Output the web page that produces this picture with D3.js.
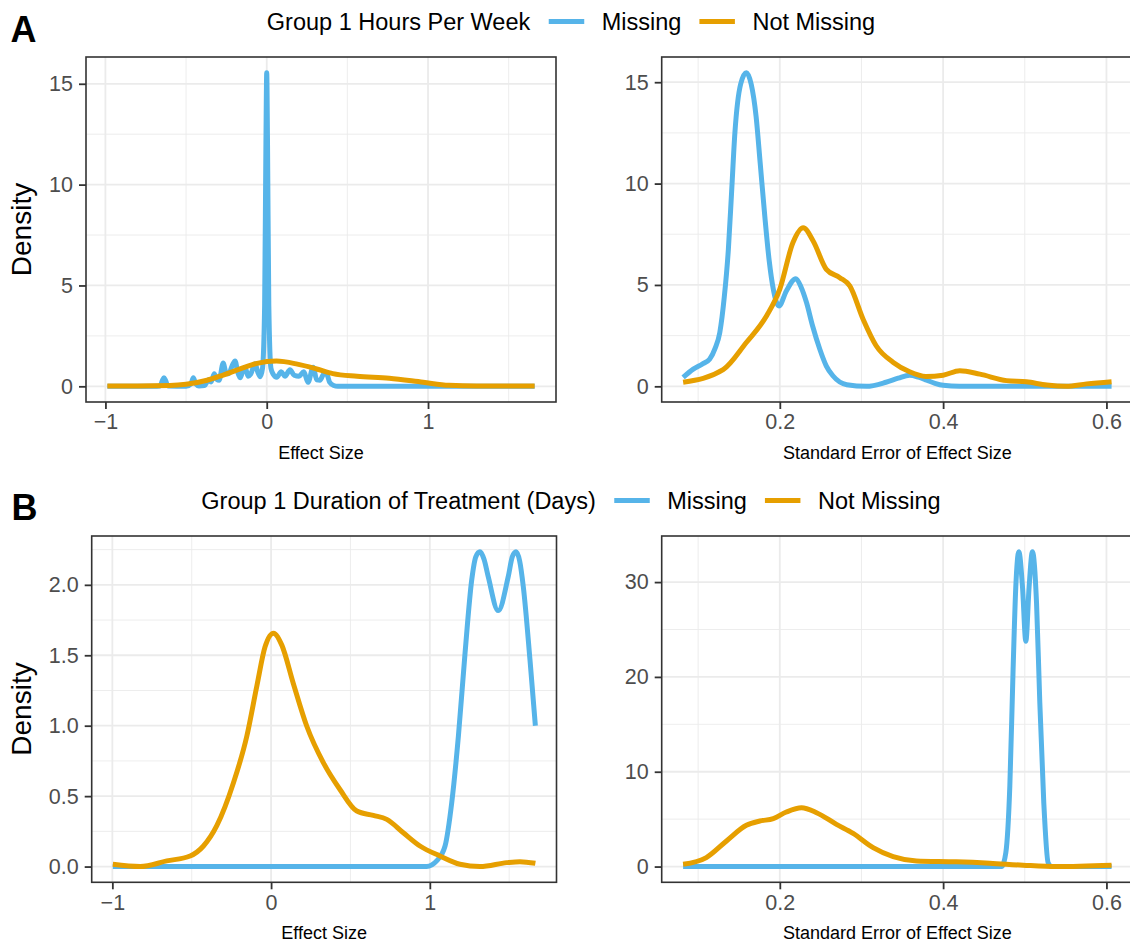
<!DOCTYPE html>
<html><head><meta charset="utf-8">
<script src="https://cdn.jsdelivr.net/npm/d3@7"></script>
<style>
body{margin:0;background:#fff}
svg{display:block}
text{font-family:"Liberation Sans",Arial,Helvetica,sans-serif}
</style>
</head><body>
<svg id="chart" width="1130" height="946"></svg>
<script>
// ---------------- DATA ----------------
const rowLabels = ["A", "B"];
const legendTitles = ["Group 1 Hours Per Week", "Group 1 Duration of Treatment (Days)"];
const seriesNames = ["Missing", "Not Missing"];
const xTitles = ["Effect Size", "Standard Error of Effect Size"];
const yTitle = "Density";

const effectTicks = [-1, 0, 1];
const seTicks = [0.2, 0.4, 0.6];
const yTicksHoursES = [0, 5, 10, 15];
const yTicksHoursSE = [0, 5, 10, 15];
const yTicksDaysES = [0, 0.5, 1.0, 1.5, 2.0];
const yTicksDaysSE = [0, 10, 20, 30];

// Hours per week — effect size densities
const hoursESMissing = [[-0.988,0],[-0.70,0],[-0.662,0.02],[-0.646,0.3],[-0.637,0.42],[-0.628,0.3],[-0.612,0.02],[-0.5,0],[-0.47,0.12],[-0.455,0.42],[-0.44,0.12],[-0.42,0.02],[-0.385,0.04],[-0.36,0.32],[-0.345,0.22],[-0.325,0.62],[-0.31,0.35],[-0.295,0.3],[-0.27,1.15],[-0.25,0.62],[-0.236,0.62],[-0.213,1.05],[-0.196,1.26],[-0.18,0.7],[-0.165,0.42],[-0.145,0.82],[-0.132,0.88],[-0.115,0.5],[-0.1,0.6],[-0.072,1.12],[-0.055,0.7],[-0.04,0.48],[-0.026,0.9],[-0.013,4],[-0.005,12],[0,15.55],[0.005,12],[0.013,4],[0.026,0.9],[0.04,0.6],[0.062,0.45],[0.09,0.72],[0.113,0.5],[0.144,0.82],[0.17,0.55],[0.2,0.5],[0.23,0.72],[0.256,0.2],[0.288,0.95],[0.31,0.32],[0.33,0.3],[0.355,0.62],[0.372,0.6],[0.39,0.2],[0.415,0.04],[0.44,0],[1.661,0]];
const hoursESNotMissing = [[-0.988,0.02],[-0.8,0.02],[-0.6,0.04],[-0.5,0.1],[-0.37,0.3],[-0.27,0.56],[-0.165,0.86],[-0.06,1.14],[0.06,1.25],[0.19,1.1],[0.31,0.86],[0.41,0.63],[0.56,0.5],[0.76,0.4],[0.97,0.2],[1.13,0.05],[1.3,0.02],[1.661,0.02]];

// Hours per week — standard error densities
const hoursSEMissing = [[0.0816,0.44],[0.094,0.85],[0.105,1.1],[0.114,1.34],[0.121,1.9],[0.1265,2.65],[0.132,4.4],[0.137,6.75],[0.141,9.6],[0.145,12.5],[0.152,14.9],[0.159,15.47],[0.165,14.9],[0.171,13.3],[0.176,11.0],[0.1816,8.4],[0.187,6.2],[0.192,4.8],[0.199,3.96],[0.208,4.7],[0.2196,5.31],[0.226,4.9],[0.2327,4.13],[0.24,3.0],[0.249,1.83],[0.257,1.0],[0.265,0.52],[0.282,0.08],[0.306,0.0],[0.33,0.2],[0.345,0.4],[0.359,0.55],[0.37,0.45],[0.38,0.3],[0.39,0.15],[0.4,0.05],[0.42,0],[0.6063,0]];
const hoursSENotMissing = [[0.0816,0.2],[0.1306,0.82],[0.159,2.16],[0.1837,3.47],[0.2,4.79],[0.216,7.08],[0.2286,7.82],[0.241,7.16],[0.257,5.77],[0.2735,5.36],[0.2857,4.95],[0.302,3.31],[0.318,2.0],[0.339,1.18],[0.359,0.72],[0.379,0.49],[0.4,0.55],[0.4204,0.77],[0.445,0.6],[0.4777,0.28],[0.502,0.22],[0.527,0.06],[0.551,0.0],[0.5757,0.12],[0.6063,0.23]];

// Duration of treatment — effect size densities
const daysESMissing = [[-0.997,0],[0.98,0],[1.043,0.04],[1.096,0.146],[1.138,0.453],[1.18,0.925],[1.222,1.516],[1.264,2.035],[1.29,2.2],[1.316,2.235],[1.342,2.18],[1.368,2.058],[1.431,1.817],[1.494,2.058],[1.52,2.2],[1.543,2.235],[1.566,2.17],[1.589,1.987],[1.631,1.468],[1.665,1.0]];
const daysESNotMissing = [[-0.997,0.016],[-0.825,0.0],[-0.657,0.04],[-0.51,0.075],[-0.426,0.146],[-0.342,0.29],[-0.237,0.595],[-0.153,0.925],[-0.09,1.28],[-0.038,1.56],[0.015,1.657],[0.067,1.574],[0.14,1.3],[0.225,0.996],[0.33,0.736],[0.434,0.547],[0.54,0.394],[0.644,0.363],[0.729,0.335],[0.833,0.24],[0.938,0.146],[1.064,0.075],[1.19,0.016],[1.316,0.0],[1.484,0.028],[1.568,0.035],[1.665,0.023]];

// Duration of treatment — standard error densities
const daysSEMissing = [[0.0816,0],[0.4716,0],[0.4768,1.47],[0.4817,8.5],[0.4857,20.8],[0.489,29.5],[0.4927,33.2],[0.4972,29.5],[0.5013,23.75],[0.5053,29.5],[0.5094,33.2],[0.5144,27.8],[0.5184,17.3],[0.5233,6.7],[0.5286,0.4],[0.533,0],[0.6063,0]];
const daysSENotMissing = [[0.0816,0.24],[0.11,0.95],[0.1347,2.7],[0.159,4.35],[0.1755,4.8],[0.192,5.05],[0.208,5.75],[0.2266,6.2],[0.245,5.68],[0.2694,4.45],[0.2898,3.5],[0.3143,2.0],[0.3388,1.05],[0.3674,0.59],[0.416,0.5],[0.4572,0.35],[0.498,0.14],[0.5389,0.0],[0.6063,0.14]];

const seriesColors = ["#56B4E9", "#E69F00"];

// ---------------- LAYOUT ----------------
const svg = d3.select("#chart");
const minus = v => (v < 0 ? "\u2212" + Math.abs(v) : String(v));
const panels = [
  {box:[86,57,556,402], data:[hoursESMissing,hoursESNotMissing], xt:effectTicks, yt:yTicksHoursES, xf:minus, yf:d3.format("d"), xTitle:xTitles[0]},
  {box:[661.7,57,1133,402], data:[hoursSEMissing,hoursSENotMissing], xt:seTicks, yt:yTicksHoursSE, xf:d3.format(".1f"), yf:d3.format("d"), xTitle:xTitles[1]},
  {box:[91.7,536,556.5,882.3], data:[daysESMissing,daysESNotMissing], xt:effectTicks, yt:yTicksDaysES, xf:minus, yf:d3.format(".1f"), xTitle:xTitles[0]},
  {box:[661.7,536,1133,882.3], data:[daysSEMissing,daysSENotMissing], xt:seTicks, yt:yTicksDaysSE, xf:d3.format(".1f"), yf:d3.format("d"), xTitle:xTitles[1]}
];

function expand(lo, hi){ const r = hi - lo; return [lo - 0.05*r, hi + 0.05*r]; }
function minors(ticks, dom){
  const step = ticks[1]-ticks[0];
  const out = [];
  for (let i=-1;i<ticks.length;i++){
    const v = ticks[0] + (i+0.5)*step;
    if (v>dom[0] && v<dom[1]) out.push(v);
  }
  return out;
}

const gridCol = "#EBEBEB", borderCol = "#333333", tickTextCol = "#4D4D4D";

panels.forEach(p => {
  const [x0,y0,x1,y1] = p.box;
  const all = p.data.flat();
  const xd = expand(d3.min(all, d=>d[0]), d3.max(all, d=>d[0]));
  const yd = expand(0, d3.max(all, d=>d[1]));
  const x = d3.scaleLinear().domain(xd).range([x0,x1]);
  const y = d3.scaleLinear().domain(yd).range([y1,y0]);
  const g = svg.append("g");
  g.selectAll(".mx").data(minors(p.xt, xd)).join("line")
    .attr("x1",d=>x(d)).attr("x2",d=>x(d)).attr("y1",y0).attr("y2",y1)
    .attr("stroke",gridCol).attr("stroke-width",0.9);
  g.selectAll(".my").data(minors(p.yt, yd)).join("line")
    .attr("y1",d=>y(d)).attr("y2",d=>y(d)).attr("x1",x0).attr("x2",x1)
    .attr("stroke",gridCol).attr("stroke-width",0.9);
  g.selectAll(".Mx").data(p.xt).join("line")
    .attr("x1",d=>x(d)).attr("x2",d=>x(d)).attr("y1",y0).attr("y2",y1)
    .attr("stroke",gridCol).attr("stroke-width",1.8);
  g.selectAll(".My").data(p.yt).join("line")
    .attr("y1",d=>y(d)).attr("y2",d=>y(d)).attr("x1",x0).attr("x2",x1)
    .attr("stroke",gridCol).attr("stroke-width",1.8);
  const line = d3.line().x(d=>x(d[0])).y(d=>y(d[1])).curve(d3.curveMonotoneX);
  p.data.forEach((s,i) => {
    g.append("path").attr("d", line(s)).attr("fill","none")
      .attr("stroke", seriesColors[i]).attr("stroke-width",5)
      .attr("stroke-linejoin","round").attr("stroke-linecap","butt");
  });
  g.append("rect").attr("x",x0).attr("y",y0).attr("width",x1-x0).attr("height",y1-y0)
    .attr("fill","none").attr("stroke",borderCol).attr("stroke-width",1.6);
  const xa = d3.axisBottom(x).tickValues(p.xt).tickFormat(p.xf).tickSize(7).tickPadding(5);
  const xg = g.append("g").attr("transform",`translate(0,${y1})`).call(xa);
  const ya = d3.axisLeft(y).tickValues(p.yt).tickFormat(p.yf).tickSize(7).tickPadding(6);
  const yg = g.append("g").attr("transform",`translate(${x0},0)`).call(ya);
  [xg,yg].forEach(a => {
    a.select(".domain").remove();
    a.selectAll(".tick line").attr("stroke",borderCol).attr("stroke-width",1.8);
    a.selectAll(".tick text").attr("fill",tickTextCol)
      .style("font-size","21.5px").style("font-family",'"Liberation Sans",Arial,sans-serif');
  });
  g.append("text").attr("x",(x0+x1)/2).attr("y",y1+57).attr("text-anchor","middle")
    .style("font-size","18px").attr("fill","#000").text(p.xTitle);
});

[229.5, 709].forEach(c => {
  svg.append("text").attr("transform",`translate(31,${c}) rotate(-90)`)
    .attr("text-anchor","middle").style("font-size","28px").attr("fill","#000").text(yTitle);
});

svg.append("text").attr("x",10.5).attr("y",42).style("font-size","36px").style("font-weight","bold").text(rowLabels[0]);
svg.append("text").attr("x",11.5).attr("y",519.5).style("font-size","36px").style("font-weight","bold").text(rowLabels[1]);

function legend(title, cy, cx){
  const g = svg.append("g");
  const fs = 23.5;
  const t = g.append("text").attr("x",0).attr("y",cy+8.5).style("font-size",fs+"px").text(title);
  let xpos = t.node().getComputedTextLength() + 18.5;
  seriesNames.forEach((n,i) => {
    g.append("line").attr("x1",xpos).attr("x2",xpos+35.5).attr("y1",cy).attr("y2",cy)
      .attr("stroke",seriesColors[i]).attr("stroke-width",5);
    xpos += 35.5 + 17.5;
    const tt = g.append("text").attr("x",xpos).attr("y",cy+8.5).style("font-size",fs+"px").text(n);
    xpos += tt.node().getComputedTextLength() + 18;
  });
  const w = xpos - 18;
  g.attr("transform",`translate(${cx - w/2},0)`);
}
legend(legendTitles[0], 21.5, 571);
legend(legendTitles[1], 500.5, 571);
</script>
</body></html>
